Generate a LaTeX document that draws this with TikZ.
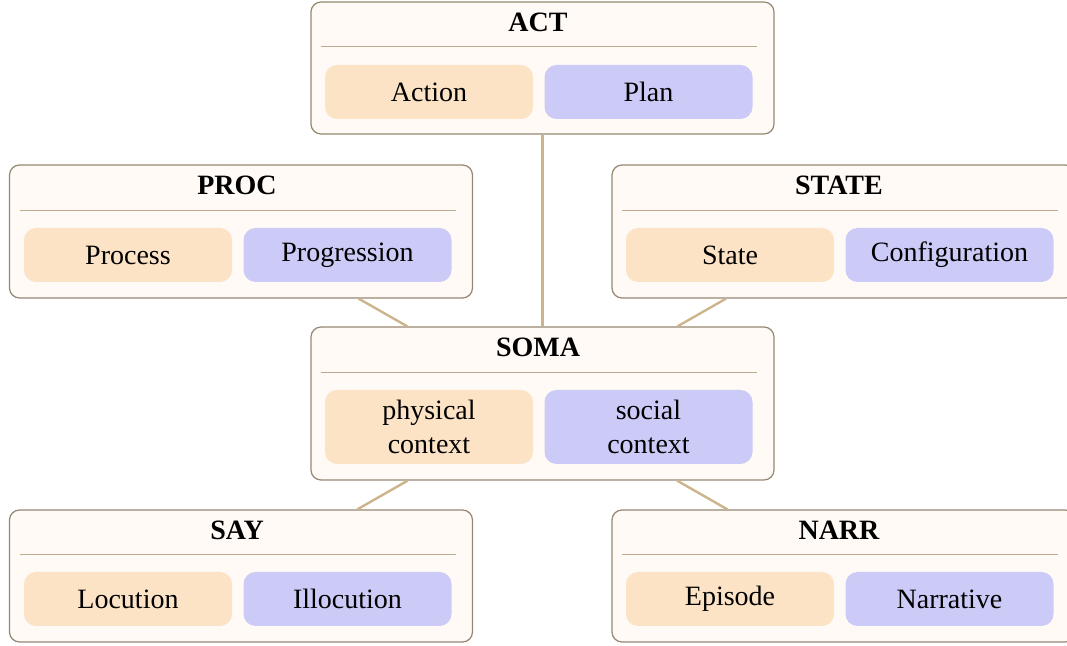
\documentclass[tikz,border=0pt]{standalone}
\usepackage{fontspec}
\setmainfont{Liberation Serif}
\definecolor{panelfill}{RGB}{255,250,245}
\definecolor{paneldraw}{RGB}{150,135,115}
\definecolor{rulecol}{RGB}{190,170,145}
\definecolor{linkcol}{RGB}{205,180,140}
\definecolor{leftfill}{RGB}{253,227,198}
\definecolor{rightfill}{RGB}{204,202,247}
\tikzset{
  panel/.style={draw=paneldraw, fill=panelfill, line width=0.6pt, rounded corners=5pt,
    minimum width=231.5pt, inner sep=0pt},
  paneltitle/.style={inner sep=0pt, font=\fontsize{14}{17}\selectfont\bfseries},
  panelrule/.style={draw=rulecol, line width=0.5pt},
  leftbox/.style={fill=leftfill, rounded corners=6pt, minimum width=104pt, minimum height=27pt,
    inner sep=0pt, align=center, font=\fontsize{14}{17}\selectfont},
  rightbox/.style={leftbox, fill=rightfill},
  link/.style={draw=linkcol, line width=1.2pt}
}
\begin{document}
\begin{tikzpicture}[x=0.5pt,y=0.5pt,yscale=-1,xscale=1]
\useasboundingbox (0,0) rectangle (1067,646);

% ACT
\node [panel, minimum height=66pt] (act) at (542.5,68) {};
\node [paneltitle] (act-title) at (538,22) {ACT};
\draw [panelrule] (321,47) -- (757,47);
\node [leftbox] (action) at (429,92) {Action};
\node [rightbox] (plan) at (648.5,92) {Plan};

% PROC
\node [panel, minimum height=66.5pt] (proc) at (241,231.5) {};
\node [paneltitle] (proc-title) at (237,185) {PROC};
\draw [panelrule] (20,211) -- (456,211);
\node [leftbox] (process) at (128,255) {Process};
\node [rightbox] (progression) at (347.5,255) {Progression};

% STATE
\node [panel, minimum height=66.5pt] (state) at (843.5,231.5) {};
\node [paneltitle] (state-title) at (839,185) {STATE};
\draw [panelrule] (622,211) -- (1058,211);
\node [leftbox] (statebox) at (730,255) {State};
\node [rightbox] (configuration) at (949.5,255) {Configuration};

% SOMA
\node [panel, minimum height=76.5pt] (soma) at (542.5,403.5) {};
\node [paneltitle] (soma-title) at (538,347) {SOMA};
\draw [panelrule] (321,373) -- (757,373);
\node [leftbox, minimum height=37pt] (physical) at (429,427) {physical\\context};
\node [rightbox, minimum height=37pt] (social) at (648.5,427) {social\\context};

% SAY
\node [panel, minimum height=66pt] (say) at (241,576) {};
\node [paneltitle] (say-title) at (237,530) {SAY};
\draw [panelrule] (20,555) -- (456,555);
\node [leftbox] (locution) at (128,599) {Locution};
\node [rightbox] (illocution) at (347.5,599) {Illocution};

% NARR
\node [panel, minimum height=66pt] (narr) at (843.5,576) {};
\node [paneltitle] (narr-title) at (839,530) {NARR};
\draw [panelrule] (622,555) -- (1058,555);
\node [leftbox] (episode) at (730,599) {Episode};
\node [rightbox] (narrative) at (949.5,599) {Narrative};

% links
\draw [link] (act) -- (soma);
\draw [link] (proc) -- (soma);
\draw [link] (state) -- (soma);
\draw [link] (soma) -- (say);
\draw [link] (soma) -- (narr);
\end{tikzpicture}
\end{document}
